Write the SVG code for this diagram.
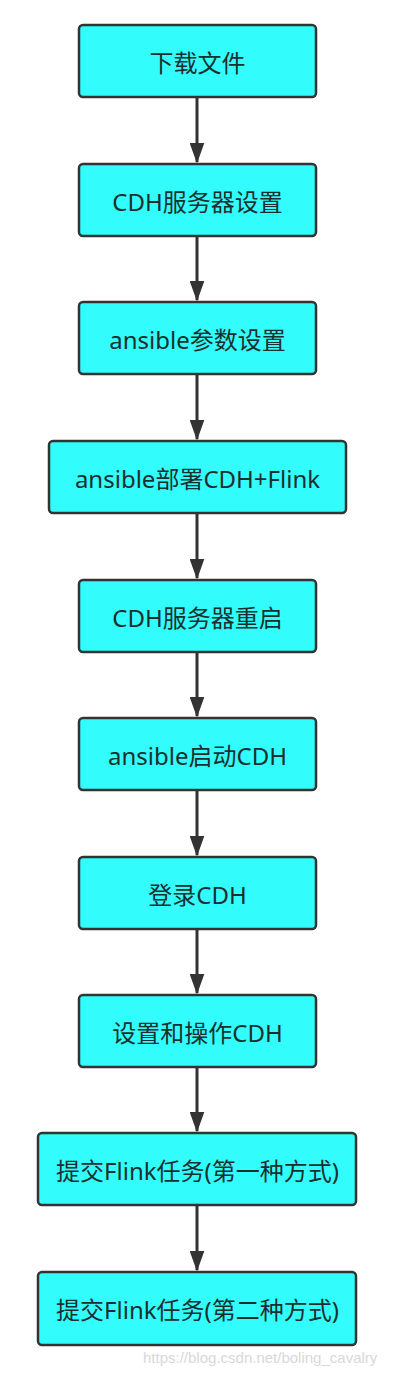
<svg xmlns="http://www.w3.org/2000/svg" width="400" height="1377" viewBox="0 0 400 1377">
<style>
.box{fill:#33fcfc;stroke:#333;stroke-width:2.5}
.lbl{font-family:"Noto Sans","Noto Sans CJK SC",sans-serif;font-size:24px;fill:#1c2f2f;text-anchor:middle;dominant-baseline:central}
.edge{stroke:#333;stroke-width:3;fill:none}
.wm{font-family:"Liberation Sans",sans-serif;font-size:15px;fill:#d8d8d8}
</style>
<defs>
<marker id="ah" markerWidth="7" markerHeight="5" refX="6.5" refY="2.5" orient="auto" markerUnits="strokeWidth">
<path d="M0,0 L7,2.5 L0,5 z" fill="#333"/>
</marker>
</defs>
<rect width="400" height="1377" fill="#fff"/>
<g id="connectors">
<line class="edge" x1="197" y1="98" x2="197" y2="162" marker-end="url(#ah)"/>
<line class="edge" x1="197" y1="237" x2="197" y2="300" marker-end="url(#ah)"/>
<line class="edge" x1="197" y1="375" x2="197" y2="439" marker-end="url(#ah)"/>
<line class="edge" x1="197" y1="514" x2="197" y2="578" marker-end="url(#ah)"/>
<line class="edge" x1="197" y1="653" x2="197" y2="716" marker-end="url(#ah)"/>
<line class="edge" x1="197" y1="791" x2="197" y2="855" marker-end="url(#ah)"/>
<line class="edge" x1="197" y1="930" x2="197" y2="993" marker-end="url(#ah)"/>
<line class="edge" x1="197" y1="1068" x2="197" y2="1131" marker-end="url(#ah)"/>
<line class="edge" x1="197" y1="1206" x2="197" y2="1270" marker-end="url(#ah)"/>
</g>
<g id="n1"><rect class="box" x="79" y="25" width="237" height="72" rx="4"/><text class="lbl" x="197.5" y="62">下载文件</text></g>
<g id="n2"><rect class="box" x="79" y="164" width="237" height="72" rx="4"/><text class="lbl" x="197.5" y="201">CDH服务器设置</text></g>
<g id="n3"><rect class="box" x="79" y="302" width="237" height="72" rx="4"/><text class="lbl" x="197.5" y="339">ansible参数设置</text></g>
<g id="n4"><rect class="box" x="49" y="441" width="297" height="72" rx="4"/><text class="lbl" x="197.5" y="478">ansible部署CDH+Flink</text></g>
<g id="n5"><rect class="box" x="79" y="580" width="237" height="72" rx="4"/><text class="lbl" x="197.5" y="617">CDH服务器重启</text></g>
<g id="n6"><rect class="box" x="79" y="718" width="237" height="72" rx="4"/><text class="lbl" x="197.5" y="755">ansible启动CDH</text></g>
<g id="n7"><rect class="box" x="79" y="857" width="237" height="72" rx="4"/><text class="lbl" x="197.5" y="894">登录CDH</text></g>
<g id="n8"><rect class="box" x="79" y="995" width="237" height="72" rx="4"/><text class="lbl" x="197.5" y="1032">设置和操作CDH</text></g>
<g id="n9"><rect class="box" x="38" y="1133" width="318" height="72" rx="4"/><text class="lbl" x="197.5" y="1170">提交Flink任务(第一种方式)</text></g>
<g id="n10"><rect class="box" x="38" y="1272" width="318" height="73" rx="4"/><text class="lbl" x="197.5" y="1309">提交Flink任务(第二种方式)</text></g>
<text class="wm" x="143" y="1363">https://blog.csdn.net/boling_cavalry</text>
</svg>
